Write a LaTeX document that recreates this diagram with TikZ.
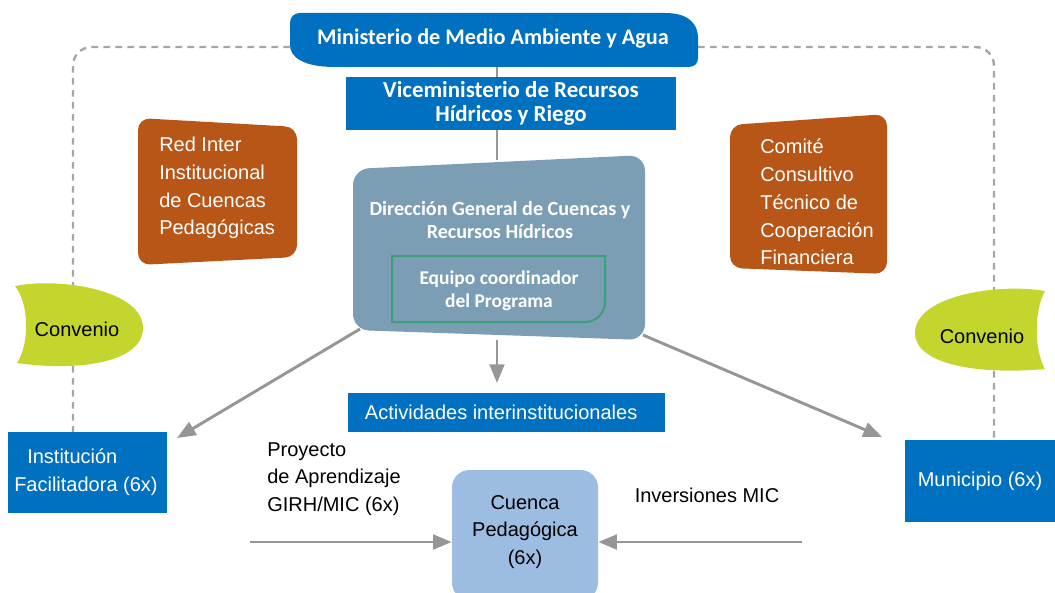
\documentclass[tikz,border=0pt]{standalone}
\usepackage{fontspec}
\setmainfont{Liberation Sans}
\newfontfamily\titlefont{Carlito}
\usetikzlibrary{arrows.meta}
\definecolor{mblue}{HTML}{0070C0}
\definecolor{dirgray}{HTML}{7C9EB5}
\definecolor{morange}{HTML}{B85618}
\definecolor{lime}{HTML}{C4D62E}
\definecolor{cuenca}{HTML}{9DBCE2}
\definecolor{eqgreen}{HTML}{3AA078}
\definecolor{arrgray}{HTML}{969696}
\definecolor{dashgray}{HTML}{A5A5AA}
\begin{document}
\begin{tikzpicture}[x=0.75pt,y=-0.75pt,
  bodytext/.style={font=\fontsize{15}{20.8}\selectfont},
  boldtitle/.style={text=white,font=\titlefont\bfseries\fontsize{16.7}{18}\selectfont,align=center},
  boldvice/.style={text=white,font=\titlefont\bfseries\fontsize{17.2}{18}\selectfont,align=center},
  boldsmall/.style={text=white,font=\titlefont\bfseries\fontsize{15.1}{17.8}\selectfont,align=center},
  boldeq/.style={text=white,font=\titlefont\bfseries\fontsize{14.6}{17.4}\selectfont,align=center},
  bluebox/.style={fill=mblue,text=white,inner sep=0pt,align=center,bodytext},
  conn/.style={draw=arrgray,line width=1.6pt},
  arrow/.style={draw=arrgray,line width=2.2pt,-{Triangle[length=14pt,width=11pt]}},
  dashline/.style={draw=dashgray,line width=1.8pt,dash pattern=on 5pt off 4pt,rounded corners=14pt}]
\useasboundingbox (0,0) rectangle (1055,592);

% named anchor points
\coordinate (minL) at (290,47);
\coordinate (minR) at (698,47);
\coordinate (leftdown) at (73,432);
\coordinate (rightdown) at (994,440);
\coordinate (dirTop) at (497,160);
\coordinate (dirBot) at (497,340);
\coordinate (dirBL) at (360,329);
\coordinate (dirBR) at (643,335);
\coordinate (instTip) at (177,438);
\coordinate (muniTip) at (882,437);
\coordinate (actTop) at (497,383);
\coordinate (proyStart) at (250,542);
\coordinate (invStart) at (802,542);

% dashed agreement lines (behind)
\draw[dashline] (minL) -- (73,47) -- (leftdown);
\draw[dashline] (minR) -- (994,47) -- (rightdown);

% Ministerio
\fill[mblue] (300,13) -- (665,13) .. controls (690,13) and (698,25) .. (698,38)
  -- (698,58) .. controls (698,64) and (694,67) .. (688,67) -- (335,67)
  .. controls (305,67) and (290,58) .. (290,45) -- (290,23)
  .. controls (290,17) and (294,13) .. (300,13);
\node[boldtitle] (min) at (493,39) {Ministerio de Medio Ambiente y Agua};

% Viceministerio
\node[fill=mblue,minimum width=247.5pt,minimum height=39.75pt,inner sep=0pt,boldvice] (vice) at (511,103.5)
  {Viceministerio de Recursos\\Hídricos y Riego};

\draw[conn] (497,67) -- (vice.north -| dirTop);
\draw[conn] (vice.south -| dirTop) -- (dirTop);

% Direccion General
\fill[dirgray,rounded corners=12pt] (353,169) -- (645,155) -- (645,340) -- (353,330) -- cycle;
\node[boldsmall] (dir) at (500,220) {Dirección General de Cuencas y\\Recursos Hídricos};
\draw[eqgreen,line width=1.5pt] (392,256) -- (605,256) -- (605,302)
  .. controls (605,313) and (596,322) .. (585,322) -- (392,322) -- cycle;
\node[boldeq] (equipo) at (499,291) {Equipo coordinador\\del Programa};

% Red Inter / Comite
\fill[morange,rounded corners=9pt] (138,118) -- (297,127) -- (297,257) -- (138,265) -- cycle;
\node[text=white,bodytext,align=left,anchor=west,inner sep=0pt] (red) at (159,188)
  {Red Inter\\Institucional\\de Cuencas\\Pedagógicas};
\fill[morange,rounded corners=9pt] (730,125) -- (887,114) -- (887,274) -- (730,268) -- cycle;
\node[text=white,bodytext,align=left,anchor=west,inner sep=0pt] (comite) at (760,202)
  {Comité\\Consultivo\\Técnico de\\Cooperación\\Financiera};

% Convenio shapes
\fill[lime] (15,286) .. controls (60,277) and (143,290) .. (143,328)
  .. controls (143,362) and (80,372) .. (17,363)
  .. controls (29,345) and (30,305) .. (15,286);
\node[bodytext] (conv1) at (77,329) {Convenio};
\fill[lime] (1045,291) .. controls (1000,283) and (915,295) .. (915,333)
  .. controls (915,365) and (980,375) .. (1045,369)
  .. controls (1034,350) and (1034,310) .. (1045,291);
\node[bodytext] (conv2) at (982,336) {Convenio};

% bottom boxes
\node[bluebox,minimum width=119.25pt,minimum height=60.75pt] (inst) at (87.5,472.5) {};
\node[text=white,bodytext,align=left,anchor=west,inner sep=0pt] (insttext) at (14,472.5)
  {\hspace*{9.75pt}Institución\\Facilitadora (6x)};
\node[bluebox,minimum width=112.5pt,minimum height=61.5pt] (muni) at (980,481)
  {Municipio (6x)};
\node[bluebox,minimum width=237.75pt,minimum height=29.25pt] (act) at (506.5,412.5)
  {\hspace*{-8pt}Actividades interinstitucionales};
\node[fill=cuenca,rounded corners=13pt,minimum width=109.5pt,minimum height=97.5pt,
  inner sep=0pt,align=center,bodytext] (cuen) at (525,535) {};
\node[bodytext,align=center] (cuentext) at (525,532) {Cuenca\\Pedagógica\\(6x)};

% arrows
\draw[arrow] (dirBot) -- (actTop);
\draw[arrow] (dirBL) -- (instTip);
\draw[arrow] (dirBR) -- (muniTip);
\draw[arrow] (proyStart) -- (cuen.west |- proyStart);
\draw[arrow] (invStart) -- (cuen.east |- invStart);

% side labels
\node[bodytext,align=left,anchor=west,inner sep=0pt] (proy) at (267,479)
  {Proyecto\\de Aprendizaje\\GIRH/MIC (6x)};
\node[bodytext,inner sep=0pt] (inv) at (707,495) {Inversiones MIC};
\end{tikzpicture}
\end{document}
